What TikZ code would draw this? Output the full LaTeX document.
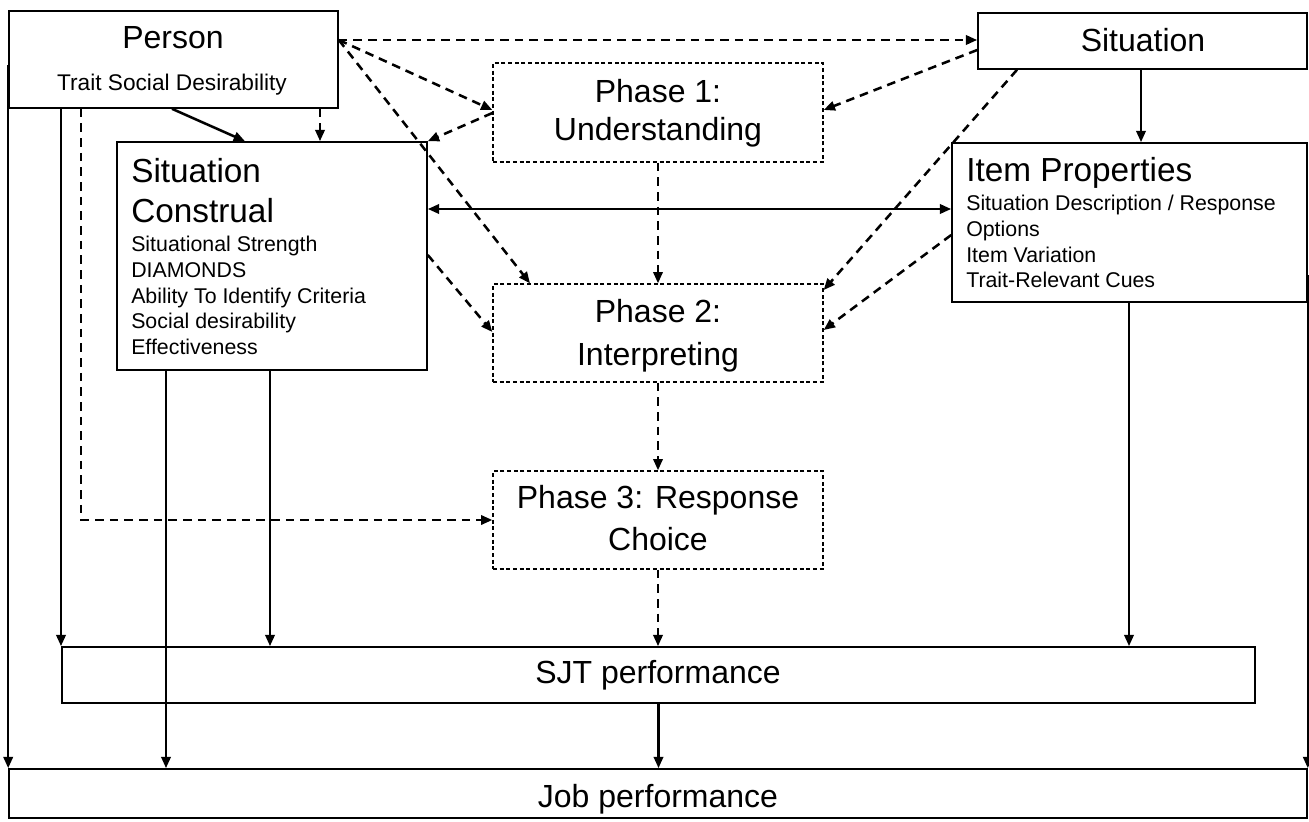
\documentclass[tikz,border=0pt]{standalone}
\usepackage{fontspec}
\setmainfont{Liberation Sans}
\usetikzlibrary{arrows.meta,fit,calc}
\begin{document}
\begin{tikzpicture}[x=0.75pt,y=-0.75pt,
  box/.style={draw,line width=1.2pt,inner sep=0pt},
  phasebox/.style={draw,line width=1pt,dash pattern=on 3pt off 2pt,inner sep=0pt},
  sarr/.style={line width=1.9pt,-{Triangle[length=8.5pt,width=7pt]}},
  sdarr/.style={line width=1.9pt,{Triangle[length=8.5pt,width=7pt]}-{Triangle[length=8.5pt,width=7pt]}},
  darr/.style={sarr,dash pattern=on 6.5pt off 4.5pt},
  big/.style={font=\fontsize{24}{28}\selectfont,inner sep=0pt,anchor=base},
  head/.style={font=\fontsize{25}{30}\selectfont,inner sep=0pt,anchor=base west},
  small/.style={font=\fontsize{16}{19}\selectfont,inner sep=0pt,anchor=base west},
]
\useasboundingbox (0,0) rectangle (1309,821);
\fill[white] (0,0) rectangle (1309,821);

% boxes
\node[box,fit={(9,11) (338,108)}] (person) {};
\node[box,fit={(978,13) (1307,69)}] (situation) {};
\node[phasebox,fit={(493,63) (823,162)}] (phase1) {};
\node[box,fit={(117,142) (427,370)}] (construal) {};
\node[box,fit={(952,143) (1307,302)}] (item) {};
\node[phasebox,fit={(493,284) (823,382)}] (phase2) {};
\node[phasebox,fit={(493,471) (823,569)}] (phase3) {};
\node[box,fit={(62,647) (1255,703)}] (sjt) {};
\node[box,fit={(9,769) (1307,818)}] (job) {};

% texts
\node[big] (tperson) at (173,48) {Person};
\node[font=\fontsize{17}{20}\selectfont,inner sep=0pt,anchor=base] (ttrait) at (172,90) {Trait Social Desirability};
\node[big] (tsit) at (1143,51) {Situation};
\node[big] (tp1a) at (658,102) {Phase 1:};
\node[big] (tp1b) at (658,140) {Understanding};
\node[head] (tcona) at (131,182) {Situation};
\node[head] (tconb) at (131,222) {Construal};
\node[small] (cl1) at (131,251) {Situational Strength};
\node[small] (cl2) at (131,277) {DIAMONDS};
\node[small] (cl3) at (131,303) {Ability To Identify Criteria};
\node[small] (cl4) at (131,328) {Social desirability};
\node[small] (cl5) at (131,354) {Effectiveness};
\node[head] (titem) at (966,181) {Item Properties};
\node[small] (il1) at (966,210) {Situation Description / Response};
\node[small] (il2) at (966,236) {Options};
\node[small] (il3) at (966,262) {Item Variation};
\node[small] (il4) at (966,287) {Trait-Relevant Cues};
\node[big] (tp2a) at (658,322) {Phase 2:};
\node[big] (tp2b) at (658,365) {Interpreting};
\node[big] (tp3a) at (658,508) {Phase 3: Response};
\node[big] (tp3b) at (658,550) {Choice};
\node[big] (tsjt) at (658,683) {SJT performance};
\node[big] (tjob) at (658,807) {Job performance};

% connectors
\coordinate (pR) at (person.east |- 0,40);
\draw[darr] (pR) -- (situation.west |- pR);
\draw[darr] (pR) -- (phase1.west |- 0,110);
\draw[darr] (pR) -- (530,0 |- phase2.north);
\draw[darr] (phase1.west |- 0,113) -- (construal.north east);
\draw[sarr] (172,0 |- person.south) -- (245,0 |- construal.north);
\draw[darr] (320,0 |- person.south) -- (320,0 |- construal.north);
\draw[sarr] (person.west |- 0,65) -- (person.west |- job.north);
\draw[sarr] (61,0 |- person.south) -- (61,0 |- sjt.north);
\draw[darr] (81,0 |- person.south) |- (phase3.west);
\draw[sarr] (166,0 |- construal.south) -- (166,0 |- job.north);
\draw[sarr] (270,0 |- construal.south) -- (270,0 |- sjt.north);
\draw[sdarr] (construal.east |- 0,209) -- (item.west |- 0,209);
\draw[darr] (construal.east |- 0,255) -- (phase2.west |- 0,332);
\draw[darr] (phase1.south) -- (phase2.north);
\draw[darr] (phase2.south) -- (phase3.north);
\draw[darr] (phase3.south) -- (phase3.south |- sjt.north);
\draw[sarr] (sjt.south) -- (sjt.south |- job.north);
\draw[sarr] (1141,0 |- situation.south) -- (1141,0 |- item.north);
\draw[darr] (situation.west |- 0,50) -- (phase1.east |- 0,110);
\draw[darr] (1017,0 |- situation.south) -- (phase2.east |- 0,290);
\draw[darr] (item.west |- 0,235) -- (phase2.east |- 0,330);
\draw[sarr] (1129,0 |- item.south) -- (1129,0 |- sjt.north);
\draw[sarr] (item.east |- 0,275) -- (item.east |- job.north);
\end{tikzpicture}
\end{document}
